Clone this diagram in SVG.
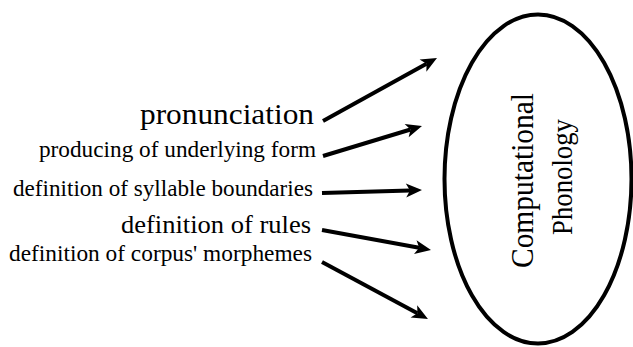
<svg xmlns="http://www.w3.org/2000/svg" width="633" height="347" viewBox="0 0 633 347">
<style>
text{fill:#000;font-family:"Liberation Serif","Times New Roman",serif}
.s{font-size:23px}
.c{stroke:#000;stroke-width:4;fill:none}
</style>
<defs>
<marker id="ah" markerUnits="userSpaceOnUse" markerWidth="20" markerHeight="16" viewBox="0 -8 18 16" refX="4" refY="0" orient="auto">
<path d="M0,-7 L16,0 L0,7 L4,0 z" fill="#000"/>
</marker>
</defs>
<rect width="633" height="347" fill="#fff"/>
<g id="connectors">
<line class="c" x1="323" y1="121" x2="426.5" y2="63.8" marker-end="url(#ah)"/>
<line class="c" x1="323" y1="156" x2="410.5" y2="129.5" marker-end="url(#ah)"/>
<line class="c" x1="322" y1="193" x2="410" y2="190.4" marker-end="url(#ah)"/>
<line class="c" x1="322" y1="230" x2="419.2" y2="247.8" marker-end="url(#ah)"/>
<line class="c" x1="322" y1="262" x2="417.4" y2="313.3" marker-end="url(#ah)"/>
</g>
<g id="pronunciation"><text x="140" y="124" font-size="29" textLength="174" lengthAdjust="spacingAndGlyphs">pronunciation</text></g>
<g id="producing"><text class="s" x="39" y="157" textLength="277" lengthAdjust="spacingAndGlyphs">producing of underlying form</text></g>
<g id="syllable"><text class="s" x="13" y="196" textLength="300" lengthAdjust="spacingAndGlyphs">definition of syllable boundaries</text></g>
<g id="rules"><text x="121" y="233" font-size="26" textLength="190" lengthAdjust="spacingAndGlyphs">definition of rules</text></g>
<g id="morphemes"><text class="s" x="9" y="261" textLength="303" lengthAdjust="spacingAndGlyphs">definition of corpus' morphemes</text></g>
<g id="computational-phonology">
<ellipse cx="538" cy="179" rx="93.5" ry="164.5" fill="none" stroke="#000" stroke-width="4"/>
<text transform="translate(533,268) rotate(-90)" font-size="31" textLength="175" lengthAdjust="spacingAndGlyphs">Computational</text>
<text transform="translate(572,235) rotate(-90)" font-size="30" textLength="116" lengthAdjust="spacingAndGlyphs">Phonology</text>
</g>
</svg>
